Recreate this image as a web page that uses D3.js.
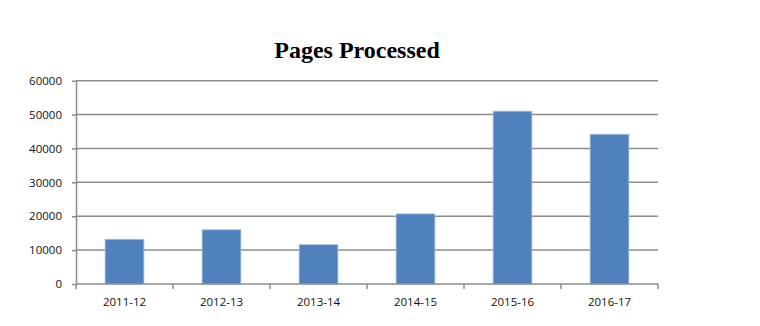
<!DOCTYPE html>
<html>
<head>
<meta charset="utf-8">
<script src="https://cdn.jsdelivr.net/npm/d3@7"></script>
<style>
	body { margin: 0; background: #fff; }
	.tick text { font-family: 'Open Sans', 'DejaVu Sans', sans-serif; font-size: 11.5px; fill: #111; }
</style>
</head>
<body>
<div id="chart"></div>
<script>
const years = [ '2011-12', '2012-13', '2013-14', '2014-15', '2015-16', '2016-17' ];
const pages = [ 13200, 16000, 11600, 20700, 51000, 44200 ];
const yTicks = [ 0, 10000, 20000, 30000, 40000, 50000, 60000 ];

const dimensions = {
	width  : 760,
	height : 326,
	margin : { top: 80.7, right: 102, bottom: 42, left: 76 }
};
dimensions.boundedWidth = dimensions.width - dimensions.margin.left - dimensions.margin.right;
dimensions.boundedHeight = dimensions.height - dimensions.margin.top - dimensions.margin.bottom;

const svg = d3.select('#chart').append('svg')
	.attr('width', dimensions.width)
	.attr('height', dimensions.height);

svg.append('text')
	.attr('x', 357)
	.attr('y', 58)
	.attr('text-anchor', 'middle')
	.attr('font-family', "'Liberation Serif', 'Times New Roman', serif")
	.attr('font-weight', 'bold')
	.attr('font-size', '24px')
	.attr('fill', '#000')
	.text('Pages Processed');

const bounds = svg.append('g')
	.attr('transform', `translate(${dimensions.margin.left}, ${dimensions.margin.top})`);

const x = d3.scaleBand().domain(years).range([ 0, dimensions.boundedWidth ]).paddingInner(0.6).paddingOuter(0.3);
const y = d3.scaleLinear().domain([ 0, 60000 ]).range([ dimensions.boundedHeight, 0 ]);

// gridlines
bounds.append('g')
	.selectAll('line')
	.data(yTicks.slice(1))
	.enter()
	.append('line')
	.attr('x1', 0)
	.attr('x2', dimensions.boundedWidth)
	.attr('y1', d => y(d))
	.attr('y2', d => y(d))
	.attr('stroke', '#8c8c8c')
	.attr('stroke-width', 1.5);

// y axis
const yAxis = bounds.append('g')
	.call(d3.axisLeft(y).tickValues(yTicks).tickFormat(d3.format('d')).tickSize(4).tickPadding(10).tickSizeOuter(0));
yAxis.selectAll('line, path').attr('stroke', '#8c8c8c').attr('stroke-width', 1.5);

// bars
bounds.selectAll('rect.bar')
	.data(pages)
	.enter()
	.append('rect')
	.attr('class', 'bar')
	.attr('x', (d, i) => x(years[i]))
	.attr('y', d => y(d))
	.attr('width', x.bandwidth())
	.attr('height', d => dimensions.boundedHeight - y(d))
	.attr('fill', '#4f81bd')
	.attr('stroke', '#a9c0de')
	.attr('stroke-width', 0.8);

// x axis with ticks at category boundaries
const step = dimensions.boundedWidth / years.length;
const xAxis = bounds.append('g')
	.attr('transform', `translate(0, ${dimensions.boundedHeight})`);
xAxis.append('line')
	.attr('x1', 0).attr('x2', dimensions.boundedWidth)
	.attr('stroke', '#8c8c8c').attr('stroke-width', 1.5);
xAxis.selectAll('line.tk')
	.data(d3.range(years.length + 1))
	.enter()
	.append('line')
	.attr('class', 'tk')
	.attr('x1', i => i * step).attr('x2', i => i * step)
	.attr('y1', 0).attr('y2', 5)
	.attr('stroke', '#8c8c8c').attr('stroke-width', 1.5);
xAxis.selectAll('text')
	.data(years)
	.enter()
	.append('text')
	.attr('class', 'xl')
	.attr('x', d => x(d) + x.bandwidth() / 2)
	.attr('y', 22)
	.attr('text-anchor', 'middle')
	.attr('font-family', "'Open Sans', 'DejaVu Sans', sans-serif")
	.attr('font-size', '11.5px')
	.attr('fill', '#111')
	.text(d => d);
</script>
</body>
</html>
